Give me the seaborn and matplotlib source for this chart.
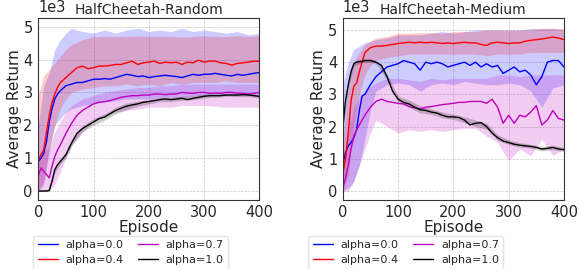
import numpy as np
import pandas as pd
import matplotlib
matplotlib.use("Agg")
import matplotlib.pyplot as plt
import seaborn as sns

episodes = [0, 5, 10, 15, 20, 25, 30, 35, 40] + list(range(50, 401, 10))
# coarser episodes for the shaded bands
band_episodes = [0, 10, 20, 30, 40, 50, 60] + list(range(80, 401, 20))

labels = ["alpha=0.0", "alpha=0.4", "alpha=0.7", "alpha=1.0"]
colors = ["blue", "red", "m", "black"]

# ---- HalfCheetah-Random (returns in 1e3) ----
rand_a00 = [0.9, 1.0, 1.15, 1.5, 2.1, 2.5, 2.8, 2.95, 3.05,
            3.2, 3.25, 3.3, 3.3, 3.35, 3.4, 3.4, 3.42, 3.4, 3.45, 3.5, 3.55, 3.52, 3.48,
            3.5, 3.45, 3.48, 3.5, 3.52, 3.5, 3.48, 3.45, 3.5, 3.55, 3.52, 3.55, 3.55,
            3.58, 3.55, 3.52, 3.5, 3.55, 3.52, 3.55, 3.58, 3.6]
rand_a04 = [0.95, 1.1, 1.25, 1.8, 2.3, 2.7, 2.95, 3.15, 3.3,
            3.45, 3.6, 3.75, 3.8, 3.72, 3.75, 3.8, 3.8, 3.82, 3.85, 3.85, 3.9, 3.95, 3.85,
            3.9, 3.92, 3.95, 3.88, 3.92, 3.9, 3.92, 3.85, 3.92, 3.9, 3.98, 3.92, 3.95,
            3.95, 3.9, 3.88, 3.83, 3.88, 3.9, 3.92, 3.95, 3.95]
rand_a07 = [0.45, 0.7, 0.6, 0.5, 0.4, 0.75, 1.05, 1.25, 1.4,
            1.75, 2.05, 2.3, 2.45, 2.55, 2.65, 2.7, 2.72, 2.75, 2.8, 2.85, 2.88, 2.9, 2.9,
            2.92, 2.92, 2.95, 2.95, 2.93, 2.95, 2.95, 3.0, 2.98, 2.97, 3.0, 3.0, 2.97,
            2.98, 2.97, 3.0, 3.0, 2.98, 2.97, 2.95, 2.97, 3.0]
rand_a10 = [0.0, 0.0, 0.0, 0.0, 0.02, 0.3, 0.65, 0.8, 0.9,
            1.1, 1.45, 1.75, 1.9, 2.0, 2.1, 2.2, 2.25, 2.35, 2.45, 2.52, 2.58, 2.62, 2.65,
            2.7, 2.72, 2.75, 2.78, 2.8, 2.78, 2.8, 2.82, 2.78, 2.82, 2.85, 2.88, 2.9,
            2.9, 2.9, 2.92, 2.92, 2.92, 2.93, 2.92, 2.9, 2.88]

rand_a00_lo = [0.0, 0.2, 1.2, 2.0, 2.2, 2.4, 2.5, 2.6, 2.65, 2.7, 2.75, 2.8, 2.8, 2.8,
               2.85, 2.85, 2.85, 2.9, 2.9, 2.9, 2.92, 2.92, 2.95, 2.95]
rand_a00_hi = [2.0, 3.2, 3.6, 4.3, 4.6, 4.8, 4.95, 4.85, 4.8, 4.9, 4.8, 4.9, 4.95, 4.85,
               4.9, 4.85, 4.95, 4.85, 4.9, 4.85, 4.8, 4.85, 4.75, 4.8]
rand_a04_lo = [0.0, 0.3, 1.3, 2.0, 2.5, 2.8, 3.0, 3.1, 3.15, 3.2, 3.2, 3.25, 3.2, 3.25,
               3.2, 3.3, 3.25, 3.3, 3.3, 3.3, 3.35, 3.3, 3.3, 3.3]
rand_a04_hi = [2.9, 3.5, 3.7, 3.9, 4.1, 4.3, 4.45, 4.6, 4.7, 4.7, 4.7, 4.7, 4.72, 4.7,
               4.72, 4.7, 4.68, 4.7, 4.72, 4.7, 4.7, 4.72, 4.7, 4.72]
rand_a07_lo = [0.0, 0.0, 0.0, 0.2, 0.6, 1.0, 1.4, 1.8, 2.1, 2.3, 2.4, 2.45, 2.5, 2.55,
               2.55, 2.55, 2.6, 2.6, 2.6, 2.58, 2.55, 2.55, 2.55, 2.55]
rand_a07_hi = [1.0, 1.2, 1.3, 1.8, 2.1, 2.4, 2.6, 2.8, 2.9, 3.0, 3.05, 3.1, 3.15, 3.15,
               3.2, 3.2, 3.25, 3.25, 3.25, 3.25, 3.25, 3.25, 3.25, 3.25]
rand_a10_lo = [-0.02, -0.02, -0.02, 0.55, 0.82, 1.0, 1.35, 1.8, 2.0, 2.15, 2.35, 2.48,
               2.58, 2.65, 2.72, 2.72, 2.76, 2.78, 2.83, 2.85, 2.88, 2.87, 2.87, 2.82]
rand_a10_hi = [0.02, 0.02, 0.05, 0.7, 0.95, 1.2, 1.55, 1.98, 2.2, 2.35, 2.55, 2.68,
               2.73, 2.78, 2.85, 2.85, 2.88, 2.9, 2.95, 2.95, 2.97, 2.97, 2.97, 2.95]

# ---- HalfCheetah-Medium (returns in 1e3) ----
med_a00 = [0.8, 1.2, 1.4, 1.5, 1.65, 1.9, 2.5, 2.95, 3.0,
           3.3, 3.55, 3.7, 3.85, 3.9, 3.95, 4.05, 4.0, 3.95, 3.75, 4.0, 3.95, 4.0, 3.95,
           3.85, 3.9, 3.95, 4.0, 3.9, 4.0, 3.85, 3.95, 3.85, 3.9, 3.65, 3.75, 3.85,
           3.7, 3.75, 3.6, 3.3, 3.55, 4.0, 4.05, 4.05, 3.85]
med_a04 = [0.5, 1.0, 1.8, 2.8, 3.25, 3.35, 3.7, 4.0, 4.3,
           4.45, 4.5, 4.5, 4.52, 4.55, 4.58, 4.6, 4.62, 4.6, 4.62, 4.6, 4.62, 4.6, 4.58,
           4.6, 4.58, 4.6, 4.62, 4.6, 4.6, 4.55, 4.52, 4.6, 4.62, 4.6, 4.58, 4.6,
           4.6, 4.65, 4.68, 4.7, 4.72, 4.75, 4.78, 4.75, 4.7]
med_a07 = [0.1, 0.4, 0.8, 1.3, 1.7, 1.9, 2.05, 2.2, 2.35,
           2.6, 2.78, 2.85, 2.78, 2.75, 2.72, 2.7, 2.62, 2.58, 2.55, 2.6, 2.62, 2.65, 2.68,
           2.7, 2.72, 2.75, 2.75, 2.78, 2.78, 2.78, 2.72, 2.85, 2.6, 2.1, 2.35, 2.1,
           2.35, 2.3, 2.45, 2.65, 2.05, 2.2, 2.5, 2.25, 2.2]
med_a10 = [1.95, 2.8, 3.3, 3.7, 3.95, 4.0, 4.02, 4.02, 4.05,
           4.05, 4.0, 3.9, 3.55, 3.1, 2.85, 2.75, 2.7, 2.6, 2.52, 2.5, 2.45, 2.42, 2.35,
           2.3, 2.3, 2.28, 2.2, 2.05, 2.1, 2.12, 2.0, 1.8, 1.65, 1.55, 1.5, 1.45,
           1.42, 1.4, 1.38, 1.35, 1.3, 1.32, 1.35, 1.3, 1.28]

med_a00_lo = [0.0, 0.1, 0.3, 0.8, 1.6, 2.5, 3.1, 3.3, 3.35, 3.3, 3.1, 3.3, 3.35, 3.3,
              3.4, 3.35, 3.3, 3.3, 3.35, 3.3, 3.1, 2.6, 3.2, 3.3]
med_a00_hi = [3.3, 4.0, 4.4, 4.5, 4.6, 4.65, 4.7, 4.75, 4.85, 4.85, 4.85, 4.9, 4.95, 4.9,
              4.95, 5.0, 5.0, 5.0, 5.0, 5.0, 5.05, 5.05, 5.05, 5.0]
med_a04_lo = [0.0, 0.5, 2.0, 3.0, 3.6, 3.9, 4.05, 4.15, 4.2, 4.25, 4.25, 4.25, 4.25, 4.25,
              4.25, 4.25, 4.2, 4.25, 4.25, 4.25, 4.3, 4.3, 4.3, 4.3]
med_a04_hi = [1.5, 3.2, 4.0, 4.3, 4.55, 4.65, 4.75, 4.8, 4.9, 4.9, 4.92, 4.92, 4.9, 4.95,
              4.95, 4.95, 5.0, 5.0, 5.0, 5.0, 5.0, 5.05, 5.05, 5.05]
med_a07_lo = [0.0, 0.0, 0.3, 0.8, 1.3, 1.8, 2.2, 2.0, 1.8, 1.9, 1.85, 1.9, 1.85, 1.9,
              1.95, 1.95, 1.7, 1.5, 0.95, 1.3, 1.1, 1.6, 1.1, 1.3]
med_a07_hi = [0.8, 2.0, 2.6, 2.9, 3.1, 3.25, 3.35, 3.5, 3.5, 3.45, 3.4, 3.5, 3.45, 3.5,
              3.5, 3.5, 3.5, 3.6, 3.6, 3.55, 3.6, 3.6, 3.6, 3.6]
med_a10_lo = [1.85, 3.2, 3.88, 3.96, 4.0, 4.0, 3.95, 3.45, 2.75, 2.6, 2.42, 2.38, 2.27,
              2.22, 2.12, 2.0, 1.92, 1.57, 1.44, 1.36, 1.33, 1.24, 1.28, 1.22]
med_a10_hi = [2.05, 3.4, 4.02, 4.08, 4.1, 4.1, 4.05, 3.62, 2.95, 2.82, 2.65, 2.55, 2.45,
              2.38, 2.3, 2.2, 2.1, 1.75, 1.58, 1.5, 1.45, 1.38, 1.42, 1.35]

panels = [
    ("HalfCheetah-Random", [rand_a00, rand_a04, rand_a07, rand_a10],
     [(rand_a00_lo, rand_a00_hi), (rand_a04_lo, rand_a04_hi),
      (rand_a07_lo, rand_a07_hi), (rand_a10_lo, rand_a10_hi)], (-0.27, 5.27)),
    ("HalfCheetah-Medium", [med_a00, med_a04, med_a07, med_a10],
     [(med_a00_lo, med_a00_hi), (med_a04_lo, med_a04_hi),
      (med_a07_lo, med_a07_hi), (med_a10_lo, med_a10_hi)], (-0.28, 5.38)),
]

sns.set_style("whitegrid")
plt.rcParams["font.family"] = ["DejaVu Sans"]

fig = plt.figure(figsize=(5.79, 2.69), dpi=100)
axes = [fig.add_axes([0.066, 0.257, 0.382, 0.677]),
        fig.add_axes([0.592, 0.257, 0.382, 0.677])]
legend_x = [0.226, 0.701]

for ax, (title, means, bands, ylim), lx in zip(axes, panels, legend_x):
    for mean, (lo, hi), lab, col in zip(means, bands, labels, colors):
        ax.fill_between(band_episodes, lo, hi, color=col, alpha=0.2, linewidth=0)
        df = pd.DataFrame({"Episode": episodes, "ret": mean})
        sns.lineplot(data=df, x="Episode", y="ret", ax=ax, color=col,
                     linewidth=1, label=lab, legend=False)
    ax.set_xlim(0, 400)
    ax.set_ylim(*ylim)
    ax.set_xticks([0, 100, 200, 300, 400])
    ax.set_yticks([0, 1, 2, 3, 4, 5])
    ax.tick_params(labelsize=10.5, length=3, pad=1)
    ax.grid(True, linestyle="--", linewidth=0.5, color="#c8c8c8")
    for sp in ax.spines.values():
        sp.set_color("#333333")
        sp.set_linewidth(0.8)
    ax.set_xlabel("Episode", fontsize=11, labelpad=0)
    ax.set_ylabel("Average Return", fontsize=11, labelpad=1)
    ax.set_title(title, fontsize=10, pad=3)
    ax.text(0, 1.015, "1e3", transform=ax.transAxes, fontsize=10.5,
            ha="left", va="bottom")
    handles, labs = ax.get_legend_handles_labels()
    fig.legend(handles, labs, loc="upper center", bbox_to_anchor=(lx, 0.123),
               ncol=2, fontsize=8, frameon=True, handlelength=1.8,
               handletextpad=0.7, columnspacing=1.3, labelspacing=0.45,
               borderpad=0.4, borderaxespad=0, edgecolor="#dddddd", fancybox=True)

fig.savefig("out.png", dpi=100)
